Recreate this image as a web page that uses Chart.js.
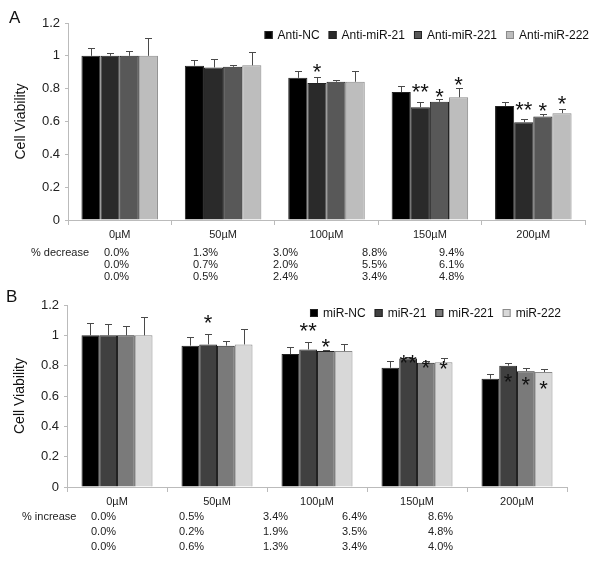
<!DOCTYPE html>
<html>
<head>
<meta charset="utf-8">
<script src="https://cdn.jsdelivr.net/npm/chart.js@4"></script>
<style>
  body { margin: 0; background: #fff; font-family: "Liberation Sans", Arial, sans-serif; }
  .wrap { position: absolute; left: 0; width: 601px; }
  .letter { position: absolute; font-size: 17px; color: #111; }
</style>
</head>
<body>
<div class="wrap" style="top:0;height:290px"><canvas id="chartA"></canvas></div>
<div class="wrap" style="top:290px;height:272px"><canvas id="chartB"></canvas></div>
<div class="letter" style="left:9px;top:8px">A</div>
<div class="letter" style="left:6px;top:287px">B</div>
<script>
const categories = ['0µM', '50µM', '100µM', '150µM', '200µM'];

// panel A
const antiNC = [1.00, 0.94, 0.866, 0.779, 0.694];
const antiMiR21 = [1.00, 0.929, 0.834, 0.687, 0.596];
const antiMiR221 = [1.00, 0.933, 0.842, 0.72, 0.63];
const antiMiR222 = [1.00, 0.942, 0.842, 0.748, 0.651];
const antiNCErr = [0.045, 0.035, 0.04, 0.035, 0.022];
const antiMiR21Err = [0.02, 0.05, 0.036, 0.03, 0.022];
const antiMiR221Err = [0.03, 0.013, 0.01, 0.016, 0.015];
const antiMiR222Err = [0.11, 0.08, 0.067, 0.055, 0.028];
// [group, series, mark, level]
const starsA = [[2, 1, '*', 0.932], [3, 1, '**', 0.81], [3, 2, '*', 0.78], [3, 3, '*', 0.853],
                [4, 1, '**', 0.70], [4, 2, '*', 0.694], [4, 3, '*', 0.737]];
const decreaseA = [
  ['0.0%', '1.3%', '3.0%', '8.8%', '9.4%'],
  ['0.0%', '0.7%', '2.0%', '5.5%', '6.1%'],
  ['0.0%', '0.5%', '2.4%', '3.4%', '4.8%']
];

// panel B
const miRNC = [1.00, 0.932, 0.877, 0.786, 0.714];
const miR21 = [1.00, 0.94, 0.907, 0.848, 0.80];
const miR221 = [1.00, 0.932, 0.896, 0.819, 0.764];
const miR222 = [1.00, 0.94, 0.896, 0.822, 0.758];
const miRNCErr = [0.08, 0.055, 0.048, 0.048, 0.033];
const miR21Err = [0.075, 0.07, 0.047, 0.01, 0.017];
const miR221Err = [0.06, 0.03, 0.007, 0.01, 0.018];
const miR222Err = [0.12, 0.1, 0.05, 0.03, 0.02];
const starsB = [[1, 1, '*', 1.114], [2, 1, '**', 1.06], [2, 2, '*', 0.955], [3, 1, '**', 0.85],
                [3, 2, '*', 0.82], [3, 3, '*', 0.81], [4, 1, '*', 0.724], [4, 2, '*', 0.705], [4, 3, '*', 0.68]];
const increaseB = [
  ['0.0%', '0.5%', '3.4%', '6.4%', '8.6%'],
  ['0.0%', '0.2%', '1.9%', '3.5%', '4.8%'],
  ['0.0%', '0.6%', '1.3%', '3.4%', '4.0%']
];

const FONT = '"Liberation Sans", Arial, sans-serif';

// error bars, stars, legend row inside the plot and the table under the axis
const extras = {
  id: 'extras',
  afterDatasetsDraw(chart, args, opts) {
    const ctx = chart.ctx;
    const y = chart.scales.y;
    ctx.save();
    ctx.strokeStyle = '#4a4a4a';
    ctx.lineWidth = 1;
    chart.data.datasets.forEach((ds, i) => {
      chart.getDatasetMeta(i).data.forEach((bar, j) => {
        const top = Math.round(y.getPixelForValue(ds.data[j] + ds.err[j])) + 0.5;
        const x = Math.round(bar.x) + 0.5;
        ctx.beginPath();
        ctx.moveTo(x, bar.y);
        ctx.lineTo(x, top);
        ctx.moveTo(x - 3.5, top);
        ctx.lineTo(x + 3.5, top);
        ctx.stroke();
      });
    });

    ctx.fillStyle = '#111';
    ctx.font = '22px ' + FONT;
    ctx.textAlign = 'center';
    ctx.textBaseline = 'alphabetic';
    opts.stars.forEach(([g, s, mark, lvl]) => {
      const bar = chart.getDatasetMeta(s).data[g];
      ctx.fillText(mark, bar.x, y.getPixelForValue(lvl) + 12);
    });

    // legend
    ctx.font = '12px ' + FONT;
    ctx.textAlign = 'left';
    ctx.textBaseline = 'middle';
    const items = chart.data.datasets.map(ds => ({ ds, w: 14 + ctx.measureText(ds.label).width }));
    const total = items.reduce((a, it) => a + it.w, 0) + 8 * (items.length - 1);
    let lx = opts.legendRight - total;
    items.forEach(it => {
      ctx.fillStyle = it.ds.backgroundColor;
      ctx.fillRect(lx, opts.legendY - 4, 8, 8);
      ctx.strokeStyle = it.ds.borderColor;
      ctx.strokeRect(lx + 0.5, opts.legendY - 3.5, 7, 7);
      ctx.fillStyle = '#111';
      ctx.fillText(it.ds.label, lx + 13, opts.legendY + 1);
      lx += it.w + 8;
    });

    // percentage table
    ctx.font = '11px ' + FONT;
    ctx.fillStyle = '#222';
    ctx.fillText(opts.rowLabel, opts.labelX, opts.rowY[0]);
    opts.rows.forEach((row, r) => {
      row.forEach((txt, c) => ctx.fillText(txt, opts.colX[c], opts.rowY[r]));
    });
    ctx.restore();
  }
};

function makeChart(id, names, values, errs, colors, cfg) {
  return new Chart(document.getElementById(id), {
    type: 'bar',
    data: {
      labels: categories,
      datasets: names.map((n, i) => ({
        label: n,
        data: values[i],
        err: errs[i],
        backgroundColor: colors[i],
        borderColor: i === 3 ? '#8a8a8a' : '#222',
        borderWidth: 1,
        categoryPercentage: cfg.catPct,
        barPercentage: 1
      }))
    },
    options: {
      responsive: true,
      maintainAspectRatio: false,
      animation: false,
      layout: { padding: cfg.padding },
      plugins: {
        legend: { display: false },
        tooltip: { enabled: false },
        extras: cfg.extras
      },
      scales: {
        x: {
          grid: { drawOnChartArea: false, tickLength: 5, color: '#bbb' },
          border: { color: '#bbb' },
          ticks: { color: '#222', padding: 3, font: { family: FONT, size: 11 } },
          afterFit(s) { s.height = cfg.xHeight; }
        },
        y: {
          min: 0, max: 1.2,
          ticks: {
            stepSize: 0.2, color: '#222', padding: 5, font: { family: FONT, size: 13 },
            callback: v => String(Number(v.toFixed(1)))
          },
          grid: { drawOnChartArea: false, tickLength: 3, color: '#bbb' },
          border: { color: '#bbb' },
          title: {
            display: true, text: 'Cell Viability', color: '#111',
            font: { family: FONT, size: 14 }, padding: { top: cfg.titlePad, bottom: 0 }
          },
          afterFit(s) { s.width = cfg.yWidth; }
        }
      }
    },
    plugins: [extras]
  });
}

makeChart('chartA',
  ['Anti-NC', 'Anti-miR-21', 'Anti-miR-221', 'Anti-miR-222'],
  [antiNC, antiMiR21, antiMiR221, antiMiR222],
  [antiNCErr, antiMiR21Err, antiMiR221Err, antiMiR222Err],
  ['#000000', '#2a2a2a', '#585858', '#bdbdbd'],
  {
    catPct: 0.74, padding: { top: 23, right: 16, bottom: 48, left: 0 },
    xHeight: 22, yWidth: 68, titlePad: 13,
    extras: {
      stars: starsA, rows: decreaseA, rowLabel: '% decrease', labelX: 31,
      colX: [104, 193, 273, 362, 439], rowY: [253, 265, 277],
      legendRight: 590, legendY: 35
    }
  });

makeChart('chartB',
  ['miR-NC', 'miR-21', 'miR-221', 'miR-222'],
  [miRNC, miR21, miR221, miR222],
  [miRNCErr, miR21Err, miR221Err, miR222Err],
  ['#000000', '#404040', '#7a7a7a', '#d8d8d8'],
  {
    catPct: 0.71, padding: { top: 15, right: 34, bottom: 53, left: 0 },
    xHeight: 22, yWidth: 67, titlePad: 12,
    extras: {
      stars: starsB, rows: increaseB, rowLabel: '% increase', labelX: 22,
      colX: [91, 179, 263, 342, 428], rowY: [227, 242, 257],
      legendRight: 562, legendY: 23
    }
  });
</script>
</body>
</html>
